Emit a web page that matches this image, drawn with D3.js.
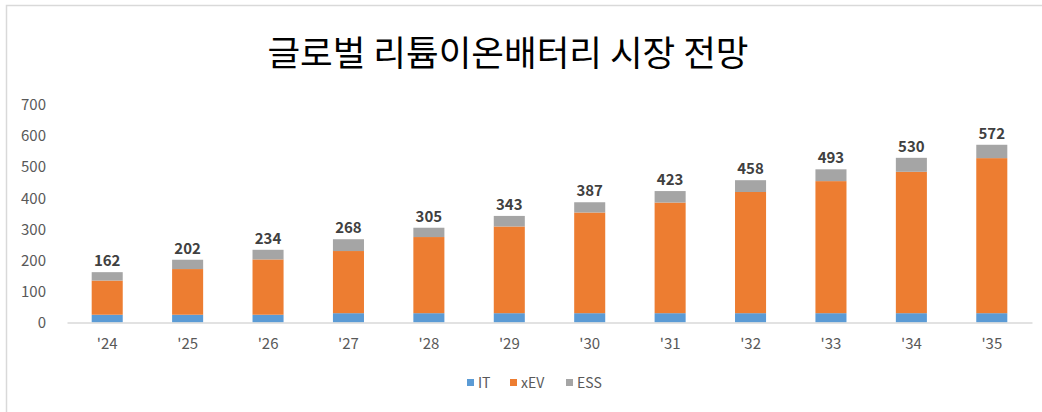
<!DOCTYPE html>
<html>
<head>
<meta charset="utf-8">
<script src="https://cdn.jsdelivr.net/npm/d3@7"></script>
<style>
  body { margin: 0; background: #fff; }
  svg { display: block; }
</style>
</head>
<body>
<div id="chart"></div>
<script>
// chart data
const years = ["'24", "'25", "'26", "'27", "'28", "'29", "'30", "'31", "'32", "'33", "'34", "'35"];
const seriesNames = ["IT", "xEV", "ESS"];
const itValues  = [25, 25, 25, 30, 30, 30, 30, 30, 30, 30, 30, 30];
const xevValues = [110, 147, 178, 200, 245, 279, 324, 356, 390, 425, 455, 499];
const essValues = [27, 30, 31, 38, 30, 34, 33, 37, 38, 38, 45, 43];
const totalLabels = [162, 202, 234, 268, 305, 343, 387, 423, 458, 493, 530, 572];
const yTicks = [0, 100, 200, 300, 400, 500, 600, 700];
const titleText = "글로벌 리튬이온배터리 시장 전망";

(function() {
    const width = 1042;
    const height = 412;
    const font = "'Noto Sans CJK KR', 'Noto Sans', sans-serif";

    const svg = d3.select("#chart")
        .append("svg")
        .attr("width", width)
        .attr("height", height);

    // chart frame (only top/left edges visible in the crop)
    svg.append("path")
        .attr("d", `M6.5,${height} V5.5 H${width}`)
        .attr("fill", "none")
        .attr("stroke", "#d9d9d9")
        .attr("stroke-width", 1.5);

    const colors = d3.scaleOrdinal()
        .domain(seriesNames)
        .range(["#5b9bd5", "#ed7d31", "#a5a5a5"]);

    const x = d3.scaleBand()
        .domain(years)
        .range([67, 1032])
        .paddingInner(0.614)
        .paddingOuter(0.307);

    const y = d3.scaleLinear()
        .domain([0, 700])
        .range([322.5, 105]);

    const rows = years.map((yr, i) => ({ year: yr, IT: itValues[i], xEV: xevValues[i], ESS: essValues[i], total: totalLabels[i] }));
    const stacked = d3.stack().keys(seriesNames)(rows);

    // title
    svg.append("text")
        .attr("x", 508)
        .attr("y", 66)
        .attr("text-anchor", "middle")
        .attr("font-family", font)
        .attr("font-size", 35.5)
        .attr("fill", "#000")
        .text(titleText);

    // y axis labels (no axis line, no gridlines)
    const yAxis = d3.axisLeft(y).tickValues(yTicks).tickSize(0).tickPadding(0);
    const yg = svg.append("g")
        .attr("transform", "translate(46,0)")
        .call(yAxis);
    yg.select(".domain").remove();
    yg.selectAll("text")
        .attr("font-family", font)
        .attr("font-size", 15)
        .attr("fill", "#595959");

    // bars
    svg.append("g").selectAll("g")
        .data(stacked)
        .join("g")
        .attr("fill", d => colors(d.key))
        .selectAll("rect")
        .data(d => d)
        .join("rect")
        .attr("x", d => x(d.data.year))
        .attr("y", d => y(d[1]))
        .attr("width", x.bandwidth())
        .attr("height", d => y(d[0]) - y(d[1]));

    // x axis
    const xAxis = d3.axisBottom(x).tickSize(0).tickPadding(16);
    const xg = svg.append("g")
        .attr("transform", `translate(0,${y(0)})`)
        .call(xAxis);
    xg.select(".domain")
        .attr("stroke", "#d9d9d9")
        .attr("stroke-width", 1.5);
    xg.selectAll("text")
        .attr("font-family", font)
        .attr("font-size", 15)
        .attr("fill", "#595959");

    // total labels
    svg.append("g").selectAll("text")
        .data(rows)
        .join("text")
        .attr("x", d => x(d.year) + x.bandwidth() / 2)
        .attr("y", d => y(d.total) - 6)
        .attr("text-anchor", "middle")
        .attr("font-family", font)
        .attr("font-size", 15)
        .attr("font-weight", "bold")
        .attr("fill", "#404040")
        .text(d => d.total);

    // legend
    const legendX = [467, 510, 566];
    const legend = svg.append("g").selectAll("g")
        .data(seriesNames)
        .join("g")
        .attr("transform", (d, i) => `translate(${legendX[i]},383)`);
    legend.append("rect")
        .attr("y", -4)
        .attr("width", 7)
        .attr("height", 7)
        .attr("fill", d => colors(d));
    legend.append("text")
        .attr("x", 11)
        .attr("y", 5)
        .attr("font-family", font)
        .attr("font-size", 14)
        .attr("fill", "#595959")
        .text(d => d);
})();
</script>
</body>
</html>
